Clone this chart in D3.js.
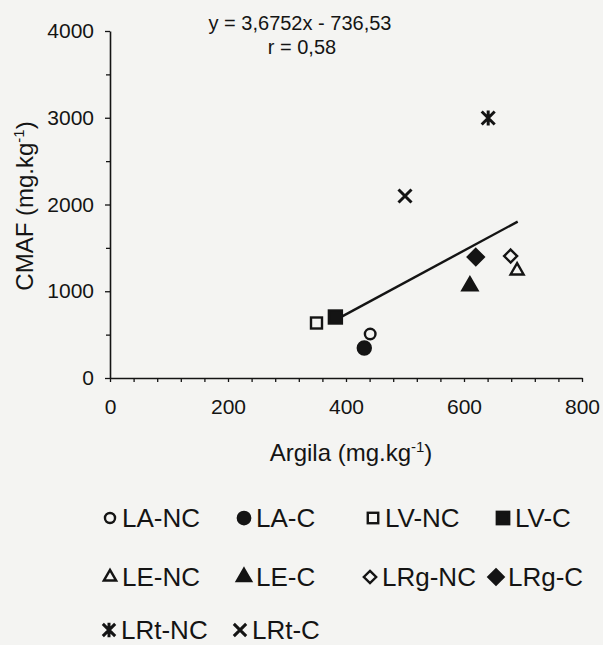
<!DOCTYPE html>
<html><head><meta charset="utf-8">
<script src="https://cdn.jsdelivr.net/npm/d3@7"></script>
<style>
html,body{margin:0;padding:0;background:#f4f4f2;}
svg{display:block;font-family:Arial,"Liberation Sans",sans-serif;}
</style></head>
<body>
<script>
// ---- data ----
const series = ["LA-NC","LA-C","LV-NC","LV-C","LE-NC","LE-C","LRg-NC","LRg-C","LRt-NC","LRt-C"];
const argila = [441, 431, 350, 382, 690, 610, 679, 620, 641, 500];
const cmaf   = [507, 346, 634, 703, 1237, 1060, 1406, 1395, 2997, 2098];
const shapes = ["circle","circle","square","square","triangle","triangle","diamond","diamond","star","x"];
const filled = [false,true,false,true,false,true,false,true,true,true];
const xTicks = [0,200,400,600,800];
const yTicks = [0,1000,2000,3000,4000];
const regSlope = 3.6752, regIntercept = -736.53;
const regRange = [381, 691];
const eqText = "y = 3,6752x - 736,53";
const rText = "r = 0,58";

const W = 603, H = 645, ink = "#141414", bg = "#f4f4f2";
const svg = d3.select("body").append("svg").attr("width", W).attr("height", H);
svg.append("rect").attr("width", W).attr("height", H).attr("fill", bg);

const x = d3.scaleLinear().domain([0,800]).range([110,582]);
const y = d3.scaleLinear().domain([0,4000]).range([378,31]);

// axes
svg.append("g").attr("transform","translate(110,0)")
  .call(d3.axisLeft(y).tickValues(yTicks).tickSize(5).tickSizeOuter(0).tickPadding(11).tickFormat(d3.format("d")));
const yMin = svg.append("g").attr("transform","translate(110,0)")
  .call(d3.axisLeft(y).tickValues(d3.range(500,4000,1000)).tickSize(4).tickFormat(""));
yMin.select(".domain").remove();
svg.append("g").attr("transform","translate(0,378)")
  .call(d3.axisBottom(x).tickValues(xTicks).tickSize(4).tickSizeOuter(0).tickPadding(17).tickFormat(d3.format("d")));
const xMin = svg.append("g").attr("transform","translate(0,378)")
  .call(d3.axisBottom(x).tickValues(d3.range(40,800,40).filter(v=>v%200)).tickSize(4).tickFormat(""));
xMin.select(".domain").remove();
svg.selectAll(".domain").attr("stroke", ink).attr("stroke-width", 1.6);
svg.selectAll(".tick line").attr("stroke", ink).attr("stroke-width", 1.3);
svg.selectAll(".tick text").attr("fill", ink).style("font-size","21px").style("font-family","Arial, 'Liberation Sans', sans-serif");

// axis titles
const xt = svg.append("text").attr("x",351).attr("y",461).attr("text-anchor","middle")
  .attr("fill",ink).style("font-size","24px");
xt.append("tspan").text("Argila (mg.kg");
xt.append("tspan").attr("dy",-9).style("font-size","15px").text("-1");
xt.append("tspan").attr("dy",9).text(")");
const yt = svg.append("text").attr("transform","translate(33,206) rotate(-90)").attr("text-anchor","middle")
  .attr("fill",ink).style("font-size","24px");
yt.append("tspan").text("CMAF (mg.kg");
yt.append("tspan").attr("dy",-9).style("font-size","15px").text("-1");
yt.append("tspan").attr("dy",9).text(")");

// equation
svg.append("text").attr("x",300).attr("y",30).attr("text-anchor","middle").attr("fill",ink)
  .style("font-size","20px").text(eqText);
svg.append("text").attr("x",302).attr("y",54).attr("text-anchor","middle").attr("fill",ink)
  .style("font-size","20px").text(rText);

// regression line
svg.append("line")
  .attr("x1", x(regRange[0])).attr("y1", y(regSlope*regRange[0]+regIntercept))
  .attr("x2", x(regRange[1])).attr("y2", y(regSlope*regRange[1]+regIntercept))
  .attr("stroke", ink).attr("stroke-width", 2.4);

function marker(g, shape, isFilled, scale){
  scale = scale || 1;
  const sw = 2.4;
  const fill = isFilled ? ink : bg;
  if (shape === "circle") {
    g.append("circle").attr("r", (isFilled?6.5:5.3)*scale).attr("fill", fill).attr("stroke", ink).attr("stroke-width", sw);
  } else if (shape === "square") {
    const s = (isFilled?13:11)*scale;
    g.append("rect").attr("x",-s/2).attr("y",-s/2).attr("width",s).attr("height",s)
      .attr("fill",fill).attr("stroke",ink).attr("stroke-width",sw);
  } else if (shape === "triangle") {
    const s = (isFilled?15:13)*scale, h = s*Math.sqrt(3)/2;
    g.append("path").attr("d", `M0,${-h*2/3}L${s/2},${h/3}L${-s/2},${h/3}Z`)
      .attr("fill",fill).attr("stroke",ink).attr("stroke-width",sw).attr("stroke-linejoin","miter");
  } else if (shape === "diamond") {
    const r = (isFilled?8:6.5)*scale;
    g.append("path").attr("d", `M0,${-r}L${r},0L0,${r}L${-r},0Z`)
      .attr("fill",fill).attr("stroke",ink).attr("stroke-width",sw);
  } else if (shape === "x" || shape === "star") {
    const r = 6.5*scale;
    let d = `M${-r},${-r}L${r},${r}M${r},${-r}L${-r},${r}`;
    if (shape === "star") d += `M0,${-r-1}L0,${r+1}`;
    g.append("path").attr("d", d).attr("stroke", ink).attr("stroke-width", 3).attr("fill","none");
  }
}

// points
series.forEach((s,i)=>{
  const g = svg.append("g").attr("transform",`translate(${x(argila[i])},${y(cmaf[i])})`);
  marker(g, shapes[i], filled[i], 1);
});

// legend
const legPos = [[110,518],[244,518],[373,518],[503,518],
                [110,577],[244,577],[370,577],[496,577],
                [109,630],[240,630]];
series.forEach((s,i)=>{
  const [lx,ly] = legPos[i];
  const g = svg.append("g").attr("transform",`translate(${lx},${ly})`);
  marker(g, shapes[i], filled[i], 0.95);
  g.append("text").attr("x", 12).attr("y", 0).attr("dy","0.36em").attr("fill",ink)
    .style("font-size","26px").text(s);
});
</script>
</body></html>
